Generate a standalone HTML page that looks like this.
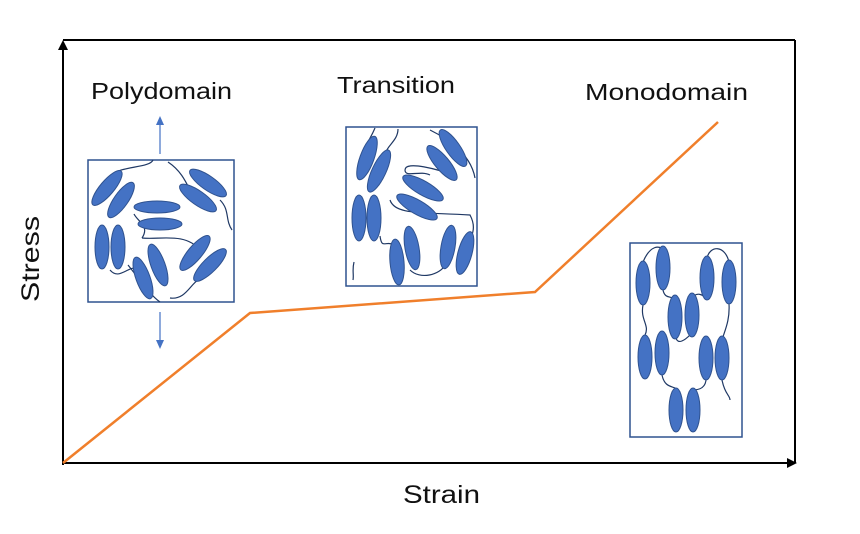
<!DOCTYPE html>
<html><head><style>body{margin:0;background:#fff}svg{display:block}</style></head><body>
<svg width="860" height="534" viewBox="0 0 860 534" xmlns="http://www.w3.org/2000/svg" font-family="Liberation Sans, sans-serif">
<defs>
<marker id="ah" markerWidth="12" markerHeight="12" refX="8" refY="6" orient="auto" markerUnits="userSpaceOnUse"><path d="M0,1 L10,6 L0,11 z" fill="#000"/></marker>
<marker id="bh" markerWidth="10" markerHeight="10" refX="6" refY="5" orient="auto" markerUnits="userSpaceOnUse"><path d="M0,1 L9,5 L0,9 z" fill="#4472c4"/></marker>
</defs>
<line x1="63" y1="40" x2="795" y2="40" stroke="#000" stroke-width="2"/>
<line x1="795" y1="40" x2="795" y2="463" stroke="#000" stroke-width="2"/>
<line x1="63" y1="465" x2="63" y2="42" stroke="#000" stroke-width="2" marker-end="url(#ah)"/>
<line x1="63" y1="463" x2="795" y2="463" stroke="#000" stroke-width="2" marker-end="url(#ah)"/>
<polyline points="63,463 250,313 535,292 718,122" fill="none" stroke="#f07f2b" stroke-width="2.5"/>
<g font-size="23" fill="#111">
<text x="91" y="99" textLength="141" lengthAdjust="spacingAndGlyphs">Polydomain</text>
<text x="337" y="93" textLength="118" lengthAdjust="spacingAndGlyphs">Transition</text>
<text x="585" y="100" textLength="163" lengthAdjust="spacingAndGlyphs">Monodomain</text>
<text x="403" y="503" font-size="25" textLength="77" lengthAdjust="spacingAndGlyphs">Strain</text>
<text transform="translate(39,259) rotate(-90)" x="-43" font-size="25" textLength="86" lengthAdjust="spacingAndGlyphs">Stress</text>
</g>
<line x1="160" y1="154" x2="160" y2="119" stroke="#4472c4" stroke-width="1.2" marker-end="url(#bh)"/>
<line x1="160" y1="312" x2="160" y2="346" stroke="#4472c4" stroke-width="1.2" marker-end="url(#bh)"/>
<g fill="#4472c4" stroke="#2f528f" stroke-width="1">
<!-- box1 -->
<rect x="88" y="160" width="146" height="142" fill="none" stroke="#2f528f" stroke-width="1.5"/>
<path d="M153,160 C150,168 120,166 112,175 M168,162 C180,170 185,180 190,190 M134,214 C138,222 150,226 142,238 M142,238 C160,240 185,232 200,250 M170,298 C185,300 190,285 198,280 M128,265 C140,280 150,295 160,302 M110,270 C120,282 130,262 140,270 M220,200 C230,210 225,220 232,230" fill="none" stroke="#1f3864" stroke-width="1.2"/>
<ellipse cx="107" cy="188" rx="22" ry="7" transform="rotate(-50 107 188)"/>
<ellipse cx="121" cy="200" rx="21" ry="7" transform="rotate(-55 121 200)"/>
<ellipse cx="157" cy="207" rx="23" ry="6"/>
<ellipse cx="160" cy="224" rx="22" ry="6"/>
<ellipse cx="102" cy="247" rx="7" ry="22"/>
<ellipse cx="118" cy="247" rx="7" ry="22"/>
<ellipse cx="143" cy="278" rx="7" ry="22" transform="rotate(-20 143 278)"/>
<ellipse cx="158" cy="265" rx="7" ry="22" transform="rotate(-20 158 265)"/>
<ellipse cx="208" cy="183" rx="22" ry="7" transform="rotate(35 208 183)"/>
<ellipse cx="198" cy="198" rx="22" ry="7" transform="rotate(35 198 198)"/>
<ellipse cx="195" cy="253" rx="22" ry="7" transform="rotate(-50 195 253)"/>
<ellipse cx="210" cy="265" rx="22" ry="7" transform="rotate(-45 210 265)"/>
<!-- box2 -->
<rect x="346" y="127" width="131" height="159" fill="none" stroke="#2f528f" stroke-width="1.5"/>
<path d="M375,128 C372,135 370,138 368,142 M398,129 C398,140 388,145 386,152 M354,262 C352,270 354,275 353,280 M380,236 C382,250 385,240 395,245 M410,270 C420,280 440,275 445,265 M390,200 C395,215 420,212 470,215 C478,230 470,240 465,245 M430,175 C420,170 405,178 405,170 C405,160 440,170 452,175 M430,130 C440,135 470,150 475,178" fill="none" stroke="#1f3864" stroke-width="1.2"/>
<ellipse cx="367" cy="158" rx="7" ry="23" transform="rotate(20 367 158)"/>
<ellipse cx="379" cy="171" rx="7" ry="23" transform="rotate(25 379 171)"/>
<ellipse cx="359" cy="218" rx="7" ry="23"/>
<ellipse cx="374" cy="218" rx="7" ry="23"/>
<ellipse cx="397" cy="262" rx="7" ry="23" transform="rotate(-5 397 262)"/>
<ellipse cx="412" cy="248" rx="7" ry="22" transform="rotate(-10 412 248)"/>
<ellipse cx="448" cy="247" rx="7" ry="22" transform="rotate(10 448 247)"/>
<ellipse cx="465" cy="253" rx="7" ry="22" transform="rotate(15 465 253)"/>
<ellipse cx="453" cy="148" rx="22" ry="7" transform="rotate(55 453 148)"/>
<ellipse cx="442" cy="163" rx="22" ry="7" transform="rotate(50 442 163)"/>
<ellipse cx="423" cy="188" rx="23" ry="7" transform="rotate(30 423 188)"/>
<ellipse cx="417" cy="207" rx="23" ry="7" transform="rotate(30 417 207)"/>
<!-- box3 -->
<rect x="630" y="243" width="112" height="194" fill="none" stroke="#2f528f" stroke-width="1.5"/>
<path d="M643,262 C650,245 660,245 663,250 M643,305 C640,320 650,325 645,335 M663,290 C665,300 672,295 675,300 M676,338 C678,345 685,340 690,335 M692,300 C695,290 705,295 707,300 M707,258 C710,245 725,245 729,262 M729,304 C730,320 725,330 722,340 M662,375 C665,390 676,385 676,390 M706,380 C705,390 695,390 693,390 M722,380 C725,395 730,395 730,400" fill="none" stroke="#1f3864" stroke-width="1.2"/>
<ellipse cx="643" cy="283" rx="7" ry="22"/>
<ellipse cx="663" cy="268" rx="7" ry="22"/>
<ellipse cx="675" cy="317" rx="7" ry="22"/>
<ellipse cx="692" cy="315" rx="7" ry="22"/>
<ellipse cx="707" cy="278" rx="7" ry="22"/>
<ellipse cx="729" cy="282" rx="7" ry="22"/>
<ellipse cx="645" cy="357" rx="7" ry="22"/>
<ellipse cx="662" cy="353" rx="7" ry="22"/>
<ellipse cx="706" cy="358" rx="7" ry="22"/>
<ellipse cx="722" cy="358" rx="7" ry="22"/>
<ellipse cx="676" cy="410" rx="7" ry="22"/>
<ellipse cx="693" cy="410" rx="7" ry="22"/>
</g>
</svg>
</body></html>
